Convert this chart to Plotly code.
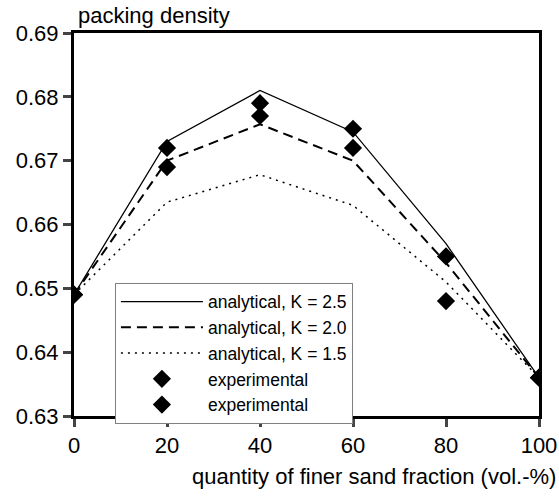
import plotly.graph_objects as go

x_vals = [0, 20, 40, 60, 80, 100]
k25 = [0.649, 0.673, 0.681, 0.6745, 0.657, 0.636]
k20 = [0.649, 0.670, 0.6757, 0.670, 0.654, 0.636]
k15 = [0.649, 0.6635, 0.6678, 0.663, 0.651, 0.636]
exp1 = [0.649, 0.672, 0.679, 0.675, 0.655, 0.636]
exp2 = [0.649, 0.669, 0.677, 0.672, 0.648, 0.636]

x_ticks = [0, 20, 40, 60, 80, 100]
y_ticks = [0.63, 0.64, 0.65, 0.66, 0.67, 0.68, 0.69]

FONT = "Liberation Sans"

fig = go.Figure()
fig.add_trace(go.Scatter(x=x_vals, y=k25, mode="lines", name="analytical, K = 2.5",
                         line=dict(color="black", width=1.3)))
fig.add_trace(go.Scatter(x=x_vals, y=k20, mode="lines", name="analytical, K = 2.0",
                         line=dict(color="black", width=2, dash="10px,6px")))
fig.add_trace(go.Scatter(x=x_vals, y=k15, mode="lines", name="analytical, K = 1.5",
                         line=dict(color="black", width=1.5, dash="2px,5px")))
fig.add_trace(go.Scatter(x=x_vals, y=exp1, mode="markers", name="experimental",
                         marker=dict(symbol="diamond", size=14, color="black")))
fig.add_trace(go.Scatter(x=x_vals, y=exp2, mode="markers", name="experimental",
                         marker=dict(symbol="diamond", size=14, color="black")))

fig.update_layout(
    template="none",
    width=559, height=497,
    margin=dict(l=74, r=20, t=33, b=81),
    paper_bgcolor="white", plot_bgcolor="white",
    font=dict(family=FONT, size=20, color="black"),
    showlegend=True,
    legend=dict(x=0.088, y=0.348, xanchor="left", yanchor="top",
                bgcolor="white", bordercolor="#808080", borderwidth=1,
                font=dict(size=17.5), tracegroupgap=0, itemwidth=82),
    xaxis=dict(range=[0, 100], tickvals=x_ticks, ticks="outside", ticklen=8,
               tickwidth=3, linewidth=3, linecolor="black", mirror=True, automargin=False,
               showgrid=False, zeroline=False, tickfont=dict(size=22)),
    yaxis=dict(range=[0.63, 0.69], tickvals=y_ticks, tickformat=".2f", ticks="outside",
               ticklen=8, tickwidth=3, linewidth=3, linecolor="black", mirror=True, automargin=False,
               showgrid=False, zeroline=False, tickfont=dict(size=22)),
)
fig.add_annotation(text="packing density", xref="paper", yref="paper", x=0.005, y=1.0,
                   xanchor="left", yanchor="bottom", showarrow=False, font=dict(size=22), yshift=3)
fig.add_annotation(text="quantity of finer sand fraction (vol.-%)", xref="paper", yref="paper",
                   x=1.0, y=0.0, xanchor="right", yanchor="top", showarrow=False,
                   font=dict(size=22), xshift=19, yshift=-46)
fig.write_html("out.html")
